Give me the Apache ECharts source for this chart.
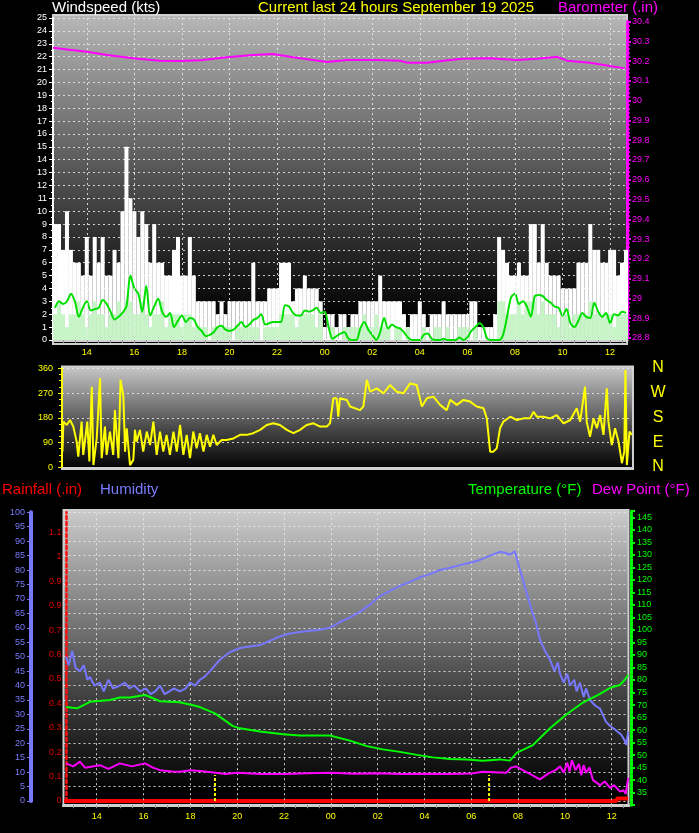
<!DOCTYPE html>
<html><head><meta charset="utf-8">
<script src="https://cdn.jsdelivr.net/npm/echarts@6/dist/echarts.min.js"></script>
<style>html,body{margin:0;padding:0;background:#000;}#c{width:699px;height:833px;}</style>
</head><body><div id="c"></div>
<script>
// ---------- DATA ----------
const timeMin = 12.58;            // hours since 00:00 Sep 18
const hourTicks = [14,16,18,20,22,24,26,28,30,32,34,36];
const slotStart = 12.667, slotStep = 1/6;   // 10-minute wind samples
const gust = [9,9,7,10,7,6,6,5,8,5, 8,6,8,5,5,7,6,10,15,11, 10,8,10,9,6,9,6,6,5,5, 7,8,5,5,8,5,3,3,3,3,
  3,2,3,2,3,3,3,3,3,3, 6,3,3,3,4,4,4,6,6,6, 3,4,4,5,4,4,4,3,1,2, 2,1,2,2,1,2,2,3,3,3, 3,3,5,3,3,3,3,3,2,1,
  2,2,3,2,1,2,2,2,3,2, 2,2,2,2,2,3,3,1,1,1, 1,2,8,7,6,5,5,6,5,5, 9,9,6,9,6,5,5,5,4,4, 4,4,6,6,6,9,7,7,6,6, 7,7,5,6,7];
const avgWind = [2,3,2,1,2,2,3,2,1,2, 3,2,2,1,2,2,3,2,3,3, 2,2,3,2,1,2,2,3,1,2, 2,2,1,2,2,1,
  1,1,1,0,1,1,1,1,1,0,1,1,1,1, 1,1,0,1,1,1,1, 2,2,2,2,1,2,2,2,2,1,2, 0,0,1,0,0,1,
  1,1,1,1,2,1,1,2,1,1,1,0,1,1,0,1,0,0, 0,1,0,0,1,1,0,1,0,0,1,1,1,0,1,0,0,0,0,0,
  3,3,2,2,2,3,2,3,3,3,2,3,2,2,2,1,2,2,1,2,2,2,2,3,2,2,2,2,2,1,2,2,2];
const windLine = [2.5,3.0,2.8,3.0,3.6,3.0,1.8,2.5,3.0,2.3, 2.4,2.5,3.1,2.8,2.2,1.6,1.8,2.1,2.6,5.0,
  4.0,3.6,2.2,4.2,1.9,2.6,3.2,2.2,1.8,2.1, 1.0,1.5,1.9,1.4,1.7,1.6,1.0,0.7,0.3,0.4,
  0.6,1.0,1.1,0.8,0.7,0.8,1.1,1.4,1.0,1.2, 1.55,1.7,2.0,1.2,1.3,1.4,1.4,1.4,2.7,2.6,
  2.1,1.9,1.9,2.3,2.2,2.3,2.5,2.1,2.2,1.0, 0.1,0.3,0.5,0.6,0.1,0,0,0.9,1.4,0.8,
  0.4,0,0.6,1.7,0.9,1.2,1.0,0.9,0.6,0.2, 0,0,0,0.4,0.5,0.1,0,0,0.1,0,
  0,0,0.2,0,0.2,0.7,1.0,1.3,1.0,0.1, 0,0,0,0.4,1.8,3.3,3.6,2.8,3.0,2.6,
  1.8,3.4,3.5,3.4,3.1,2.9,2.6,2.5,1.9,2.4, 1.3,1.0,1.5,2.1,1.8,1.7,2.9,2.2,1.8,2.1, 1.3,2.0,1.9,2.2,2.1];
const baroTimes = [12.58,13.17,14.01,14.85,15.94,17.08,17.92,18.76,19.89,20.99,21.83,22.67,23.51,24.10,24.94,26.20,27.17,27.46,28.30,29.27,29.81,30.95,32.08,32.92,33.59,33.76,34.19,35.15,35.99,36.62];
const baroValues = [30.267,30.259,30.247,30.231,30.214,30.202,30.200,30.204,30.219,30.231,30.236,30.219,30.205,30.195,30.205,30.205,30.202,30.192,30.192,30.205,30.212,30.214,30.205,30.212,30.219,30.222,30.202,30.192,30.175,30.163];
const dirTimes = [12.6,12.64,12.78,12.92,13.06,13.20,13.27,13.41,13.48,13.55,13.65,13.74,13.84,13.91,14.05,14.19,14.26,14.40,14.47,14.61,14.75,14.82,14.97,15.06,15.18,15.25,15.32,15.46,15.60,15.67,15.74,15.88,16.02,16.17,16.31,16.45,16.59,16.73,16.87,17.01,17.15,17.30,17.44,17.58,17.72,17.86,18.00,18.14,18.28,18.42,18.57,18.71,18.85,18.99,19.13,19.34,19.55,19.84,20.12,20.40,20.68,20.97,21.25,21.53,21.81,22.10,22.38,22.66,22.94,23.23,23.51,23.79,23.93,24.07,24.21,24.28,24.35,24.64,24.78,25.20,25.34,25.49,25.63,25.91,26.19,26.47,26.76,27.04,27.32,27.60,27.82,28.03,28.31,28.59,28.87,29.02,29.30,29.58,29.86,30.14,30.43,30.57,30.71,30.85,30.99,31.13,31.27,31.56,31.84,32.12,32.40,32.55,32.69,32.97,33.25,33.53,33.82,34.10,34.38,34.52,34.66,34.73,34.80,34.94,35.09,35.23,35.37,35.51,35.65,35.72,35.86,36.00,36.15,36.29,36.39,36.44,36.50,36.61,36.71];
const dirValues = [57,166,154,172,148,93,39,166,45,93,166,21,293,8,105,324,33,148,45,130,45,208,33,318,257,57,142,8,27,136,93,136,57,130,81,166,45,130,57,118,45,130,57,154,45,118,33,130,69,124,57,118,75,118,81,99,99,105,118,118,124,136,154,160,154,136,124,136,154,160,148,148,160,251,251,184,251,245,221,208,221,318,275,287,269,299,275,269,305,299,221,251,257,227,208,245,227,245,239,221,215,178,57,57,69,142,166,184,172,178,178,202,184,184,178,190,160,172,215,166,251,293,166,111,178,142,190,118,287,166,81,142,93,15,57,354,8,130,118];
const humTimes = [12.69,12.8,12.95,13.1,13.28,13.45,13.6,13.71,13.9,14.14,14.3,14.5,14.7,14.99,15.2,15.4,15.6,15.85,16.1,16.3,16.5,16.7,16.9,17.1,17.3,17.55,17.8,17.98,18.2,18.41,18.6,18.84,19.05,19.27,19.5,19.7,20.13,20.55,20.97,21.4,21.83,22.25,22.68,23.1,23.54,23.95,24.39,24.8,25.24,25.67,26.1,26.5,26.95,27.4,27.81,28.2,28.66,29.1,29.51,29.95,30.37,30.8,31.22,31.45,31.65,31.86,32.08,32.3,32.51,32.75,32.93,33.15,33.36,33.55,33.7,33.79,33.95,34.1,34.22,34.4,34.5,34.64,34.8,34.9,35.07,35.3,35.5,35.75,35.93,36.1,36.25,36.4,36.55,36.62,36.7];
const humValues = [50,47,52,46,45,47,42,43,40,41,38,42,39,40,41,39,40,38,39,37,38,40,37,38,39,38,39,41,40,42,43,45,47,49,50.5,51.6,53,53.5,54,55.5,57,58,58.5,59,59.3,60,62,63.5,65.5,68,71,72.7,74.5,76,77.5,78.5,80,80.8,81.7,82.5,83.5,85,86.3,86,85.3,86.5,80,74,68,62,56,52,49,45,48,44,41,44,40,42,38,41,36,39,35,33,32,27.5,26,25,24,23,21,19.4,24];
const tempTimes = [12.69,13.16,13.71,14.57,14.99,15.42,16.06,16.28,16.7,17.55,18.2,18.41,19.05,19.82,20.12,20.97,21.96,22.68,23.96,24.81,25.54,26.22,26.95,27.68,28.36,29.09,29.81,30.49,31.22,31.65,31.95,32.63,33.36,34.09,34.77,35.5,35.93,36.35,36.55,36.7];
const tempValues = [69.2,68.7,71.3,72,73,73,74,73.2,71.5,71.1,69.7,69.2,66.7,61.6,60.7,59.4,58.3,57.8,57.8,55.8,53.6,52.3,51.3,50.1,49.1,48.5,48.3,47.8,48.3,47.8,51,54,60.7,66.4,71,74.5,76.9,78,80,82];
const dewTimes = [12.69,13.0,13.28,13.5,14.14,14.5,14.99,15.5,16.06,16.4,16.7,17.2,17.55,18.0,18.41,19.0,19.5,20.0,21.0,22.0,23.0,24.0,25.0,26.0,27.0,28.0,29.0,30.0,30.5,31.0,31.5,31.7,31.9,32.2,32.6,32.93,33.3,33.6,33.8,33.95,34.1,34.2,34.3,34.45,34.6,34.7,34.8,34.9,35.05,35.2,35.5,35.7,35.93,36.1,36.35,36.5,36.6,36.7];
const dewValues = [46.7,45.5,47.4,45,46,44.5,46.7,45.5,46.7,45,44,43.5,43.4,44,43.7,43.1,42.5,43,42.5,42.5,42.8,43,42.6,42.8,42.5,42.6,42.5,42.7,43.4,43.2,43,45,45.5,44,42,40.3,42.7,44,45.5,43,47,43.5,48,44,46.5,42,46,43,45,40,38,39.5,36.9,38,35.4,36,34.5,40.9];
const rainTimes = [12.6,36.2,36.22,36.7];
const rainValues = [0,0,0.01,0.01];
const sunMarkTimes = [19.05,30.76];
const sunMarkHeight = 0.107;
const rainLabels = ['0','0.1','0.2','0.3','0.4','0.5','0.6','0.7','0.9','0.9','1','1.1'];

// ---------- BUILD ----------
const FONT = '"Liberation Sans", Arial, sans-serif';
const pair = (t, v) => t.map((x, i) => [x, v[i]]);
const slots = arr => arr.map((v, i) => [slotStart + i * slotStep, v]);
const halfHours = []; for (let h = 13; h <= 36.5; h += 0.5) halfHours.push(h);
const hh = v => { const h = Math.round(v) % 24; return (h < 10 ? '0' : '') + h; };
const dotted = { color: 'rgba(235,235,235,0.85)', width: 1, type: [2, 3] };
const vLines = (xi, yi) => ({
  type: 'line', xAxisIndex: xi, yAxisIndex: yi, data: [], z: 1, silent: true,
  markLine: { silent: true, symbol: ['none', 'none'], label: { show: false }, lineStyle: dotted,
    data: hourTicks.map(h => ({ xAxis: h })) }
});
const lbl = (color, extra) => Object.assign({ color, fontSize: 9, fontFamily: FONT }, extra || {});

const bg = (x, y, w, h, stops) => ({
  type: 'rect', z: -100, shape: { x, y, width: w, height: h },
  style: { fill: new echarts.graphic.LinearGradient(0, 0, 0, 1, stops), stroke: '#cfcfcf', lineWidth: 2 }
});
const txt = (text, x, y, fill, size, align) => ({
  type: 'text', z: 100, x, y,
  style: { text, fill, font: (size || 15) + 'px ' + FONT, textVerticalAlign: 'middle', textAlign: align || 'left' }
});

const option = {
  backgroundColor: '#000',
  animation: false,
  graphic: [
    bg(53, 15, 574, 329, [{ offset: 0, color: '#b8b8b8' }, { offset: 0.5, color: '#505050' }, { offset: 0.92, color: '#000' }, { offset: 1, color: '#000' }]),
    bg(62, 366.5, 571, 102.5, [{ offset: 0, color: '#cacaca' }, { offset: 0.6, color: '#484848' }, { offset: 1, color: '#000' }]),
    bg(63.5, 510, 565, 296, [{ offset: 0, color: '#cccccc' }, { offset: 0.55, color: '#505050' }, { offset: 0.95, color: '#000' }, { offset: 1, color: '#000' }]),
    txt('Windspeed (kts)', 52, 8, '#ffffff'),
    txt('Current last 24 hours September 19 2025', 258, 8, '#ffff00'),
    txt('Barometer (.in)', 558, 8, '#ff00ff'),
    txt('N', 658, 368, '#ffff00', 16, 'center'),
    txt('W', 658, 393, '#ffff00', 16, 'center'),
    txt('S', 658, 418, '#ffff00', 16, 'center'),
    txt('E', 658, 443, '#ffff00', 16, 'center'),
    txt('N', 658, 467, '#ffff00', 16, 'center'),
    txt('Rainfall (.in)', 2, 490, '#ff0000'),
    txt('Humidity', 100, 490, '#7b7bff'),
    txt('Temperature (°F)', 468, 490, '#00ff00'),
    txt('Dew Point (°F)', 592, 490, '#ff00ff')
  ],
  grid: [
    { left: 53, right: 72, top: 18, bottom: 493 },
    { left: 53, right: 72, top: 21.5, bottom: 495 },
    { left: 62, right: 66, top: 368.3, bottom: 365.7 },
    { left: 63.5, right: 70.4, top: 512.3, bottom: 32 },
    { left: 63.5, right: 70.4, top: 511, bottom: 27.8 }
  ],
  xAxis: [
    { type: 'value', gridIndex: 0, min: timeMin, max: 36.71,
      axisLine: { lineStyle: { color: '#d0d0d0', width: 3 } },
      axisTick: { customValues: halfHours, length: 3, lineStyle: { color: '#9a9a9a' } },
      axisLabel: lbl('#ffff00', { customValues: hourTicks, formatter: hh, margin: 8 }),
      splitLine: { show: false } },
    { type: 'value', gridIndex: 1, min: timeMin, max: 36.71, show: false },
    { type: 'value', gridIndex: 2, min: timeMin, max: 36.76,
      axisLine: { lineStyle: { color: '#d0d0d0', width: 2 } }, axisTick: { show: false },
      axisLabel: { show: false }, splitLine: { show: false } },
    { type: 'value', gridIndex: 3, min: timeMin, max: 36.72, show: false },
    { type: 'value', gridIndex: 4, min: timeMin, max: 36.72,
      axisLine: { lineStyle: { color: '#d0d0d0', width: 3 } },
      axisTick: { customValues: halfHours, length: 3, lineStyle: { color: '#9a9a9a' } },
      axisLabel: lbl('#ffff00', { customValues: hourTicks, formatter: hh, margin: 7 }),
      splitLine: { show: false } }
  ],
  yAxis: [
    { type: 'value', gridIndex: 0, min: 0, max: 25, interval: 1, position: 'left',
      axisLine: { show: true, lineStyle: { color: '#ffffff', width: 2 } },
      axisTick: { show: true, length: 4, lineStyle: { color: '#ffffff' } },
      minorTick: { show: true, splitNumber: 2, length: 2, lineStyle: { color: '#ffffff' } },
      axisLabel: lbl('#ffffff', { margin: 6 }), splitLine: { show: true, lineStyle: dotted } },
    { type: 'value', gridIndex: 1, min: 28.8, max: 30.4, interval: 0.1, position: 'right',
      axisLine: { show: true, lineStyle: { color: '#ff00ff', width: 3, type: [2, 2] } },
      axisTick: { show: true, length: 4, lineStyle: { color: '#ff00ff', width: 2 } },
      minorTick: { show: true, splitNumber: 5, length: 3, lineStyle: { color: '#ff00ff', width: 1.5 } },
      axisLabel: lbl('#ff00ff', { margin: 5, formatter: v => String(+v.toFixed(1)) }),
      splitLine: { show: false } },
    { type: 'value', gridIndex: 2, min: 0, max: 360, interval: 90, position: 'left',
      axisLine: { show: true, lineStyle: { color: '#ffff00', width: 2 } },
      axisTick: { show: true, length: 4, lineStyle: { color: '#ffff00' } },
      minorTick: { show: true, splitNumber: 4, length: 3, lineStyle: { color: '#ffff00' } },
      axisLabel: lbl('#ffff00', { margin: 9 }), splitLine: { show: true, lineStyle: dotted } },
    { type: 'value', gridIndex: 3, min: 0, max: 100, interval: 5, position: 'left', offset: 32.5,
      axisLine: { show: true, lineStyle: { color: '#7878ff', width: 4 } },
      axisTick: { show: true, length: 4, lineStyle: { color: '#7878ff' } },
      minorTick: { show: true, splitNumber: 5, length: 2, lineStyle: { color: '#7878ff' } },
      axisLabel: lbl('#7b7bff', { margin: 6 }), splitLine: { show: true, lineStyle: dotted } },
    { type: 'value', gridIndex: 3, min: 0, max: 1.183, interval: 0.1, position: 'left', offset: -3,
      axisLine: { show: true, lineStyle: { color: '#ff1010', width: 2.5, type: [3, 3] } },
      axisTick: { show: false },
      axisLabel: lbl('#e00000', { margin: 5, showMaxLabel: false,
        formatter: v => { const i = Math.round(v * 10); return (Math.abs(v * 10 - i) < 0.01 && rainLabels[i]) || ''; } }),
      splitLine: { show: false } },
    { type: 'value', gridIndex: 4, min: 30, max: 147.5, interval: 5, position: 'right', offset: 2.4,
      axisLine: { show: true, lineStyle: { color: '#00ff00', width: 3, type: [2, 2] } },
      axisTick: { show: true, length: 4, lineStyle: { color: '#00ff00', width: 2 } },
      minorTick: { show: true, splitNumber: 5, length: 2, lineStyle: { color: '#00ff00' } },
      axisLabel: lbl('#00ff00', { margin: 6, showMaxLabel: false,
        formatter: v => (v >= 35 && v <= 145 && v % 5 === 0) ? String(v) : '' }),
      splitLine: { show: false } }
  ],
  series: [
    vLines(0, 0),
    { type: 'bar', xAxisIndex: 0, yAxisIndex: 0, data: slots(gust), barWidth: 4, barGap: '-100%', z: 2,
      itemStyle: { color: '#ffffff' }, silent: true },
    { type: 'bar', xAxisIndex: 0, yAxisIndex: 0, data: slots(avgWind), barWidth: 4, barGap: '-100%', z: 3,
      itemStyle: { color: '#c8f5c8' }, silent: true },
    { type: 'line', xAxisIndex: 0, yAxisIndex: 0, data: slots(windLine), showSymbol: false, smooth: 0.3, z: 4,
      lineStyle: { color: '#00e000', width: 2 } },
    { type: 'line', xAxisIndex: 1, yAxisIndex: 1, data: pair(baroTimes, baroValues), showSymbol: false, z: 5,
      lineStyle: { color: '#ff00ff', width: 2 } },
    { type: 'line', xAxisIndex: 2, yAxisIndex: 2, data: pair(dirTimes, dirValues), showSymbol: false, z: 5,
      lineStyle: { color: '#ffff00', width: 2 } },
    vLines(4, 5),
    { type: 'line', xAxisIndex: 3, yAxisIndex: 4, data: pair(rainTimes, rainValues), showSymbol: false, z: 3,
      lineStyle: { color: '#ff0000', width: 4 } },
    ...sunMarkTimes.map(t => ({ type: 'line', xAxisIndex: 3, yAxisIndex: 4, data: [[t, 0], [t, sunMarkHeight]],
      showSymbol: false, z: 4, lineStyle: { color: '#ffff00', width: 2, type: [3, 2] } })),
    { type: 'line', xAxisIndex: 3, yAxisIndex: 3, data: pair(humTimes, humValues), showSymbol: false, z: 5,
      lineStyle: { color: '#7777ff', width: 2 } },
    { type: 'line', xAxisIndex: 4, yAxisIndex: 5, data: pair(tempTimes, tempValues), showSymbol: false, z: 5,
      lineStyle: { color: '#00ff00', width: 2 } },
    { type: 'line', xAxisIndex: 4, yAxisIndex: 5, data: pair(dewTimes, dewValues), showSymbol: false, z: 5,
      lineStyle: { color: '#ff00ff', width: 2 } }
  ]
};
const chart = echarts.init(document.getElementById('c'), null, { renderer: 'canvas' });
chart.setOption(option);
</script></body></html>
